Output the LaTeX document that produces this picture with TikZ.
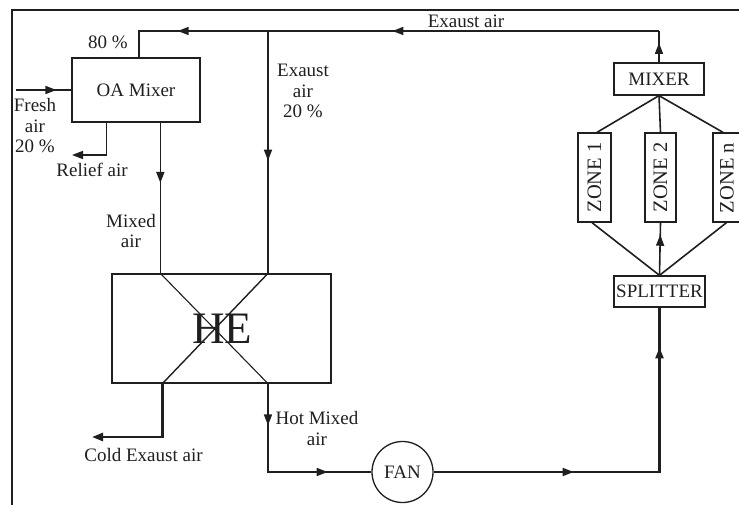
\documentclass[tikz,border=0pt]{standalone}
\usepackage{fontspec}
\setmainfont{Liberation Serif}
\usetikzlibrary{arrows.meta,decorations.markings,calc}
\colorlet{ink}{black!88}
\begin{document}
\begin{tikzpicture}[x=1pt,y=-1pt,
  >={Triangle[length=11pt,width=8pt]},
  every node/.style={font=\fontsize{19}{20.5}\selectfont, text=ink, inner sep=0pt},
  box/.style={draw=ink, line width=1.3pt, inner sep=0pt},
  zonebox/.style={box, font=\fontsize{20.5}{22}\selectfont, minimum height=89pt},
  ln/.style={line width=1.6pt, draw=ink},
  thk/.style={line width=2.4pt, draw=ink},
  diag/.style={line width=1.1pt, draw=ink},
  arr/.style={postaction={decorate, decoration={markings, mark=at position #1 with {\arrow[ink]{Triangle[length=11pt,width=8pt]}}}}},
  lbl/.style={align=center}
]
\useasboundingbox (0,0) rectangle (739,505);
% frame
\draw[line width=2.5pt, ink] (12,505) -- (12,10) -- (739,10);

% nodes
\node[box, minimum width=128pt, minimum height=64pt] (oa) at (136,90) {OA Mixer};
\node[box, minimum width=219pt, minimum height=109pt] (he) at (221.5,328.5) {};
\node[box, minimum width=90pt, minimum height=32pt] (mixer) at (659,79) {MIXER};
\node[box, minimum width=91pt, minimum height=31pt] (splitter) at (659.5,291.5) {SPLITTER};
\node[zonebox, minimum width=33pt] (z1) at (594.5,177.5) {\rotatebox{90}{ZONE 1}};
\node[zonebox, minimum width=31pt] (z2) at (660.5,177.5) {\rotatebox{90}{ZONE 2}};
\node[zonebox, minimum width=33pt] (zn) at (729.5,177.5) {};
\node[font=\fontsize{20.5}{22}\selectfont] (znt) at (727,178) {\rotatebox{90}{ZONE n}};
\node[draw=ink, circle, line width=1.3pt, minimum size=61pt] (fan) at (402.5,472) {FAN};

% labels
\node (l80) at (108,42) {80 \%};
\node[lbl] (lfresh) at (35,126) {Fresh\\air\\20 \%};
\node (lrelief) at (92,170) {Relief air};
\node[lbl] (lmixed) at (131,231) {Mixed\\air};
\node[lbl] (lex20) at (303,91) {Exaust\\air\\20 \%};
\node (lextop) at (466,21) {Exaust air};
\node (lcold) at (143.5,455) {Cold Exaust air};
\node[lbl] (lhot) at (317,428.5) {Hot Mixed\\air};

% coordinates
\coordinate (fa) at (16,90);
\coordinate (c1) at (659,31);
\coordinate (c2) at (139,31);
\coordinate (b1) at (268,31);
\coordinate (r1) at (72,155);
\coordinate (ce) at (92,437);
\coordinate (m0) at ($(oa.south west)+(89,0)$);
\coordinate (r0) at ($(oa.south west)+(35,0)$);
\coordinate (h1) at (m0 |- he.north);
\coordinate (h2) at (b1 |- he.north);
\coordinate (h3) at (b1 |- he.south);
\coordinate (h4) at ($(he.south west)+(51,0)$);
\coordinate (c3) at (splitter.south |- fan.east);

% HE text and diagonals
\draw[diag] (h1) -- (h3);
\draw[diag, line width=1.4pt] (h2) -- (h4);
\node[font=\fontsize{45}{48}\selectfont] (het) at (222,329) {HE};

% connectors
\draw[ln, arr=0.73] (fa) -- (oa.west);
\draw[ln, arr=0.62] (mixer.north) -- (c1);
\draw[ln, arr=0.488, arr=0.881] (c1) -- (c2) -- (c2 |- oa.north);
\draw[ln, arr=0.535] (b1) -- (h2);
\draw[ln, arr=0.40] (m0) -- (h1);
\draw[ln, ->] (r0) |- (r1);
\draw[thk, ->] (h4) |- (ce);
\draw[ln, arr=0.218, arr=0.772] (h3) |- (fan.west);
\draw[ln, arr=0.62] (fan.east) -- (c3);
\draw[thk, line cap=rect, arr=0.758] (c3) -- (splitter.south);

% mixer / splitter to zones
\draw[ln] (mixer.south) -- ($(z1.north)+(2.5,0)$);
\draw[ln] (mixer.south) -- (z2.north);
\draw[ln] (mixer.south) -- ($(zn.north)+(-6.5,0)$);
\draw[ln] (splitter.north) -- ($(z1.south)+(-2.5,0)$);
\draw[ln, arr=0.77] (splitter.north) -- (z2.south);
\draw[ln] (splitter.north) -- ($(zn.south)+(-3,0)$);
\end{tikzpicture}
\end{document}
